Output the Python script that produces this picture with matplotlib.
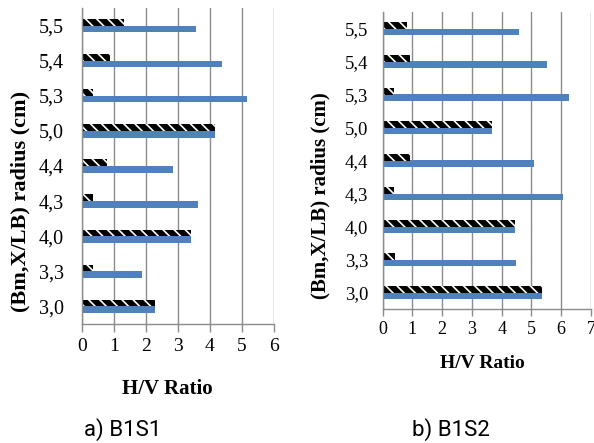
import matplotlib
matplotlib.use("Agg")
import matplotlib.pyplot as plt
import numpy as np

categories = ['3,0', '3,3', '4,0', '4,3', '4,4', '5,0', '5,3', '5,4', '5,5']

b1s1_blue = [2.29, 1.89, 3.42, 3.62, 2.85, 4.18, 5.18, 4.37, 3.57]
b1s1_hatch = [2.29, 0.36, 3.42, 0.36, 0.80, 4.18, 0.36, 0.88, 1.33]

b1s2_blue = [5.34, 4.49, 4.45, 6.06, 5.08, 3.66, 6.27, 5.51, 4.57]
b1s2_hatch = [5.34, 0.41, 4.45, 0.39, 0.92, 3.68, 0.39, 0.92, 0.83]

xticks_a = [0, 1, 2, 3, 4, 5, 6]
xticks_b = [0, 1, 2, 3, 4, 5, 6, 7]

ylabel = '(Bm,X/LB) radius (cm)'
xlabel = 'H/V Ratio'

plt.rcParams['hatch.linewidth'] = 1.2

W, H = 594, 443
fig = plt.figure(figsize=(W / 100, H / 100), dpi=100)

def px_axes(x0, x1, ytop, ybot):
    return fig.add_axes([x0 / W, (H - ybot) / H, (x1 - x0) / W, (ybot - ytop) / H])

ax1 = px_axes(81.7, 273.7, 8, 324)
ax2 = px_axes(382.7, 591, 12, 309)

BLUE = '#4F81BD'
GRID = '#8C8C8C'
serif = 'Liberation Serif'

def draw(ax, blue, hatch, xticks, ytick_fs, xtick_fs, ypad, xtick_len):
    pos = np.arange(len(categories))
    h = 0.19
    ax.barh(pos - h / 2, blue, height=h, color=BLUE, linewidth=0, zorder=3)
    ax.barh(pos + h / 2, hatch, height=h, facecolor='black', edgecolor='white',
            hatch='\\\\\\', linewidth=0, zorder=3)
    ax.set_ylim(-0.5, len(categories) - 0.5)
    ax.set_xlim(xticks[0], xticks[-1])
    ax.set_xticks(xticks)
    ax.set_xticklabels([str(t) for t in xticks], fontsize=xtick_fs, family=serif)
    ax.set_yticks(pos)
    ax.set_yticklabels(categories, fontsize=ytick_fs, family=serif)
    ax.tick_params(axis='y', length=0, pad=ypad)
    ax.tick_params(axis='x', length=xtick_len, color=GRID, width=1, pad=4)
    ax.grid(axis='x', color=GRID, linewidth=1, zorder=0)
    ax.set_axisbelow(True)
    for s in ['top', 'right']:
        ax.spines[s].set_visible(False)
    for s in ['left', 'bottom']:
        ax.spines[s].set_color(GRID)
        ax.spines[s].set_linewidth(1)
        ax.spines[s].set_zorder(4)

draw(ax1, b1s1_blue, b1s1_hatch, xticks_a, 14.5, 14, 13, 6)
draw(ax2, b1s2_blue, b1s2_hatch, xticks_b, 13.5, 13, 10.5, 5)

def ftext(x, y, s, **kw):
    fig.text(x / W, (H - y) / H, s, ha='center', va='center', **kw)

ftext(20, 201, ylabel, rotation=90, fontsize=16, fontweight='bold', family=serif)
ftext(320, 196, ylabel, rotation=90, fontsize=15, fontweight='bold', family=serif)
ftext(167, 389, xlabel, fontsize=15, fontweight='bold', family=serif)
ftext(482, 364, xlabel, fontsize=14, fontweight='bold', family=serif)
ftext(123, 430, 'a) B1S1', fontsize=16, family='Roboto')
ftext(451, 430, 'b) B1S2', fontsize=16, family='Roboto')

fig.savefig('out.png', dpi=100)
